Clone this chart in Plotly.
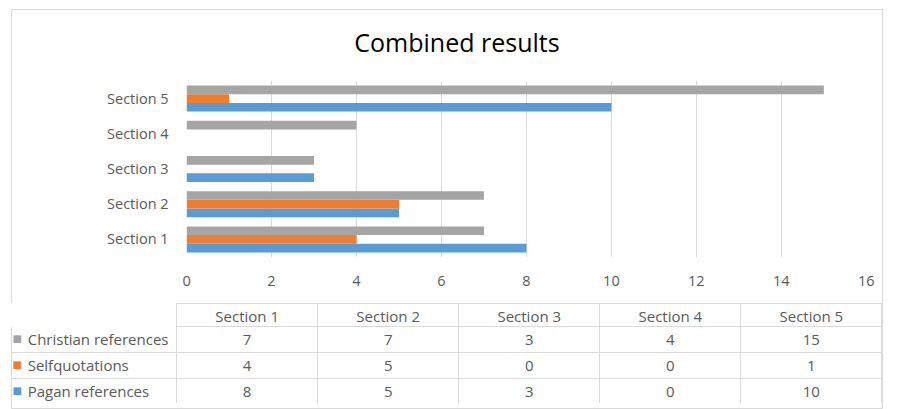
import plotly.graph_objects as go

W, H = 899, 409

categories = ["Section 1", "Section 2", "Section 3", "Section 4", "Section 5"]
christian = [7, 7, 3, 4, 15]
selfquot = [4, 5, 0, 0, 1]
pagan = [8, 5, 3, 0, 10]
series_names = ["Christian references", "Selfquotations", "Pagan references"]
series_colors = ["#A5A5A5", "#ED7D31", "#5B9BD5"]
x_ticks = [0, 2, 4, 6, 8, 10, 12, 14, 16]

FONT = "Open Sans"
TXT = "#595959"
GRID = "#D9D9D9"
FS_AX = 14.5
FS_TB = 15

def px_x(p):
    return p / W

def px_y(p):
    return 1 - p / H

fig = go.Figure()

# bars: first trace at bottom of each group
for name, vals, col in [(series_names[2], pagan, series_colors[2]),
                        (series_names[1], selfquot, series_colors[1]),
                        (series_names[0], christian, series_colors[0])]:
    fig.add_trace(go.Bar(y=categories, x=vals, name=name, orientation="h",
                         marker=dict(color=col, line=dict(width=0)),
                         showlegend=False))

# data table (nbsp instead of spaces so the table does not auto-wrap)
label_cells = ["\u00a0\u00a0" + n.replace(" ", "\u00a0") for n in series_names]
rows = [christian, selfquot, pagan]
columns = [label_cells] + [[str(r[i]) for r in rows] for i in range(len(categories))]

tbl_x = [px_x(8), px_x(890)]
tbl_y = [px_y(404), px_y(303)]

fig.add_trace(go.Table(
    domain=dict(x=tbl_x, y=tbl_y),
    columnwidth=[167] + [143] * 5,
    header=dict(values=[""] + categories,
                align="center",
                height=23,
                fill=dict(color="white"),
                line=dict(color=["white"] + [GRID] * 5, width=1),
                font=dict(family=FONT, size=FS_TB, color=TXT)),
    cells=dict(values=columns,
               align=["left"] + ["center"] * 5,
               height=26,
               fill=dict(color="white"),
               line=dict(color=GRID, width=1),
               font=dict(family=FONT, size=FS_TB, color=TXT)),
))

# legend keys of the data table (coloured squares), overlaid on the label column
fig.add_trace(go.Table(
    domain=dict(x=[px_x(0), px_x(27)], y=tbl_y),
    header=dict(values=[""], height=23,
                fill=dict(color="rgba(0,0,0,0)"),
                line=dict(color="rgba(0,0,0,0)", width=0)),
    cells=dict(values=[["■"] * len(series_names)],
               align="right", height=26,
               fill=dict(color="rgba(0,0,0,0)"),
               line=dict(color="rgba(0,0,0,0)", width=0),
               font=dict(family="DejaVu Sans", size=10, color=[series_colors])),
))

fig.update_layout(
    width=W, height=H,
    margin=dict(l=0, r=0, t=0, b=0),
    paper_bgcolor="white", plot_bgcolor="white",
    barmode="group", bargap=0.26, bargroupgap=0,
    title=dict(text="Combined results", x=457 / W, xanchor="center",
               y=px_y(43), yanchor="middle",
               font=dict(family=FONT, size=25, color="#000000")),
    xaxis=dict(domain=[px_x(185), px_x(874)], range=[0, 16], tickvals=x_ticks,
               showgrid=True, gridcolor=GRID, gridwidth=1, zeroline=False,
               showline=False, ticks="outside", ticklen=11, tickcolor="rgba(0,0,0,0)",
               tickfont=dict(family=FONT, size=FS_AX, color=TXT), fixedrange=True),
    yaxis=dict(domain=[px_y(257), px_y(81)], categoryorder="array",
               categoryarray=categories, showgrid=False, zeroline=False,
               showline=False, ticks="outside", ticklen=14, tickcolor="rgba(0,0,0,0)",
               tickfont=dict(family=FONT, size=FS_AX, color=TXT), fixedrange=True),
    shapes=[dict(type="rect", xref="paper", yref="paper",
                 x0=px_x(7.5), x1=px_x(890.5), y0=px_y(408.5), y1=px_y(9.5),
                 line=dict(color=GRID, width=1), fillcolor="rgba(0,0,0,0)",
                 layer="below")],
)

fig.write_html("out.html")
